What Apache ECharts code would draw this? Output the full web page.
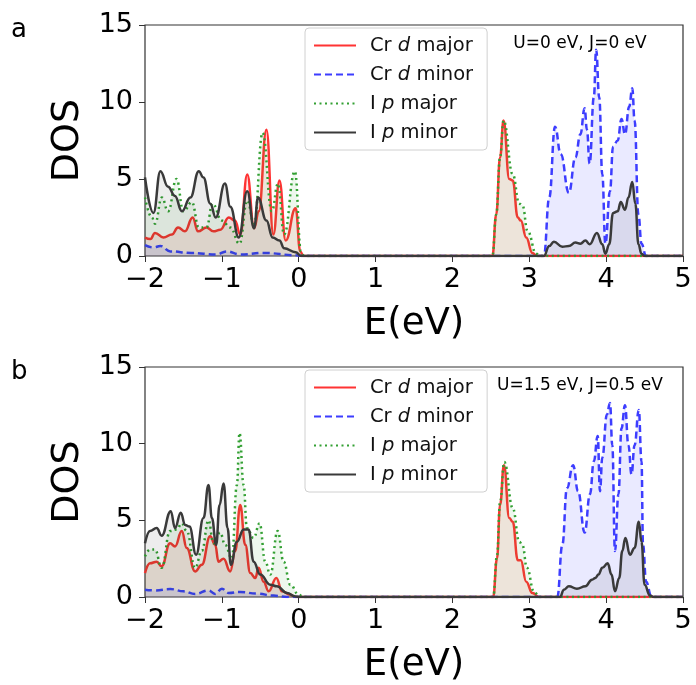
<!DOCTYPE html>
<html>
<head>
<meta charset="utf-8">
<script src="https://cdn.jsdelivr.net/npm/echarts@6/dist/echarts.min.js"></script>
<style>html,body{margin:0;padding:0;background:#fff}#c{width:696px;height:685px}</style>
</head>
<body>
<div id="c"></div>
<script>
// ---------- data ----------
var seriesNames = ['Cr d major', 'Cr d minor', 'I p major', 'I p minor'];
var xTicks = [-2, -1, 0, 1, 2, 3, 4, 5];
var yTicks = [0, 5, 10, 15];
var panelLabels = ['a', 'b'];
var panelNotes = ['U=0 eV, J=0 eV', 'U=1.5 eV, J=0.5 eV'];

// Panel a: [E (eV), DOS]
var aCrdMajor = [[-2,1.2],[-1.93,1.1],[-1.87,1.5],[-1.76,1.2],[-1.65,1.4],[-1.57,1.85],[-1.48,1.6],[-1.38,2.5],[-1.31,1.6],[-1.2,1.85],[-1.11,1.6],[-1.02,1.7],[-0.91,2.5],[-0.83,2.3],[-0.76,1.4],[-0.67,5.3],[-0.58,1.8],[-0.52,2.9],[-0.42,8.2],[-0.33,1.4],[-0.25,4.9],[-0.17,1.0],[-0.04,3.1],[0.02,0.3],[0.06,0],[2.52,0],[2.57,2.7],[2.62,6.4],[2.665,8.8],[2.74,5.0],[2.785,4.9],[2.85,2.5],[2.89,2.3],[2.96,1.2],[3.04,0.2],[3.1,0],[5,0]];
var aCrdMinor = [[-2,0.7],[-1.89,0.55],[-1.8,0.65],[-1.67,0.3],[-1.4,0.2],[-1.07,0.1],[-0.94,0.3],[-0.76,0.1],[-0.46,0.2],[-0.03,0.05],[0.05,0],[3.19,0],[3.26,3.8],[3.335,8.4],[3.41,6.6],[3.515,4.1],[3.6,6.4],[3.665,7.9],[3.72,9.6],[3.75,8.2],[3.785,6.0],[3.84,10.3],[3.87,13.4],[3.91,10.3],[3.95,5.3],[3.99,0.8],[4.05,4.2],[4.09,7.1],[4.15,7.5],[4.2,8.9],[4.245,7.9],[4.3,9.7],[4.34,10.9],[4.37,8.8],[4.42,2.7],[4.46,0.8],[4.52,0],[5,0]];
var aIpMajor = [[-2,3.8],[-1.91,2.5],[-1.87,2.1],[-1.78,3.8],[-1.7,2.9],[-1.59,5.0],[-1.5,2.9],[-1.39,3.5],[-1.3,1.85],[-1.2,1.85],[-1.12,3.4],[-1.0,2.3],[-0.89,1.85],[-0.77,0.8],[-0.67,3.6],[-0.58,2.1],[-0.47,8.0],[-0.35,2.9],[-0.27,4.7],[-0.19,1.4],[-0.05,5.5],[0.03,0.3],[0.07,0],[2.52,0],[2.57,2.7],[2.62,6.4],[2.665,8.8],[2.785,5.3],[2.87,3.4],[2.91,3.3],[2.98,1.6],[3.09,0.15],[3.15,0],[5,0]];
var aIpMinor = [[-2,5.1],[-1.89,2.8],[-1.8,5.5],[-1.7,4.5],[-1.61,3.9],[-1.52,2.9],[-1.41,3.8],[-1.3,5.5],[-1.24,5.1],[-1.15,3.4],[-1.08,2.5],[-0.96,4.7],[-0.89,3.2],[-0.78,1.2],[-0.67,4.2],[-0.58,1.8],[-0.53,3.8],[-0.42,2.3],[-0.34,1.2],[-0.25,1.0],[-0.19,0.5],[-0.04,0.25],[0.03,0],[3.19,0],[3.26,0.65],[3.32,0.93],[3.43,0.6],[3.515,0.65],[3.6,0.87],[3.665,0.8],[3.73,1.0],[3.785,0.76],[3.88,1.5],[3.95,0.76],[3.99,0.15],[4.04,0.76],[4.09,2.8],[4.15,2.9],[4.19,3.5],[4.245,3.0],[4.29,3.8],[4.34,4.8],[4.38,3.4],[4.42,0.76],[4.46,0.15],[4.5,0],[5,0]];

// Panel b
var bCrdMajor = [[-2,1.56],[-1.935,2.2],[-1.848,2.3],[-1.783,2.0],[-1.674,3.5],[-1.609,3.3],[-1.522,4.3],[-1.457,3.2],[-1.348,1.67],[-1.261,2.1],[-1.152,3.96],[-1.087,3.4],[-1.043,2.3],[-0.978,2.5],[-0.891,1.67],[-0.826,3.0],[-0.761,6.0],[-0.696,3.4],[-0.63,1.56],[-0.565,1.24],[-0.522,1.9],[-0.457,1.0],[-0.391,0.37],[-0.291,1.24],[-0.217,0.37],[-0.109,0.15],[-0.043,0],[2.53,0],[2.58,2.5],[2.62,6.0],[2.67,8.6],[2.74,5.15],[2.785,4.9],[2.85,2.4],[2.89,2.4],[2.96,1.0],[3.04,0.26],[3.13,0],[5,0]];
var bCrdMinor = [[-2,0.48],[-1.87,0.43],[-1.67,0.52],[-1.5,0.37],[-1.348,0.2],[-1.174,0.43],[-1.087,0.2],[-0.999,0.54],[-0.913,0.26],[-0.761,0.33],[-0.543,0.22],[-0.326,0.09],[-0.152,0],[3.365,0],[3.43,3.4],[3.49,7.1],[3.57,8.6],[3.635,6.9],[3.72,4.2],[3.79,6.7],[3.84,8.85],[3.89,10.5],[3.92,6.9],[3.95,9.1],[4.01,11.9],[4.05,12.65],[4.08,9.9],[4.115,3.0],[4.16,6.7],[4.2,11.0],[4.245,12.5],[4.29,9.9],[4.33,8.0],[4.37,9.9],[4.425,12.2],[4.46,8.85],[4.48,3.4],[4.52,1.0],[4.59,0],[5,0]];
var bIpMajor = [[-2,2.65],[-1.935,3.1],[-1.87,3.1],[-1.783,1.9],[-1.674,4.3],[-1.587,4.4],[-1.522,4.8],[-1.457,4.3],[-1.348,1.9],[-1.261,3.0],[-1.174,5.0],[-1.109,3.5],[-1.022,4.2],[-0.957,3.4],[-0.87,2.5],[-0.804,7.3],[-0.77,10.7],[-0.717,7.3],[-0.674,4.5],[-0.587,3.85],[-0.509,4.8],[-0.435,2.3],[-0.37,1.46],[-0.274,4.3],[-0.196,2.3],[-0.109,0.8],[0,0.15],[0.065,0],[2.53,0],[2.58,2.7],[2.62,6.2],[2.675,8.8],[2.785,5.8],[2.87,3.6],[2.91,3.4],[2.97,1.9],[3.06,0.37],[3.13,0],[5,0]];
var bIpMinor = [[-2,3.5],[-1.935,4.3],[-1.848,4.5],[-1.783,4.0],[-1.665,5.6],[-1.609,4.5],[-1.535,5.5],[-1.478,4.7],[-1.422,4.6],[-1.335,2.76],[-1.239,5.15],[-1.174,7.3],[-1.13,5.15],[-1.074,3.4],[-1.03,6.0],[-0.978,7.4],[-0.926,4.5],[-0.883,2.1],[-0.804,3.6],[-0.717,4.4],[-0.652,4.4],[-0.587,2.3],[-0.5,1.46],[-0.37,0.8],[-0.283,0.7],[-0.152,0.26],[-0.043,0.04],[0.02,0],[3.4,0],[3.45,0.48],[3.515,0.7],[3.62,0.54],[3.73,0.7],[3.815,1.13],[3.86,1.24],[3.9,1.46],[3.95,1.9],[4.02,2.2],[4.07,1.46],[4.115,0.37],[4.17,1.24],[4.21,3.0],[4.25,3.85],[4.31,2.76],[4.37,3.2],[4.425,4.9],[4.46,3.6],[4.5,0.8],[4.57,0.1],[4.62,0],[5,0]];

// ---------- chart ----------
var FONT = 'DejaVu Sans';
var panels = [[aCrdMajor, aCrdMinor, aIpMajor, aIpMinor], [bCrdMajor, bCrdMinor, bIpMajor, bIpMinor]];
var styles = [
  {color: '#ff3333', type: 'solid', fill: 'rgba(255,51,51,0.14)'},
  {color: '#3d3dff', type: [7, 4], fill: 'rgba(61,61,255,0.15)'},
  {color: '#33a033', type: [2, 3.5], fill: 'rgba(51,160,51,0.12)'},
  {color: '#3a3a3a', type: 'solid', fill: 'rgba(0,0,0,0.10)'}
];
var gridTops = [25, 367];
var gridH = 231;
var fmtTick = function (v) { return String(v).replace('-', '\u2212'); };

var grids = [], xAxes = [], yAxes = [], series = [], legends = [], graphics = [];
for (var p = 0; p < 2; p++) {
  grids.push({left: 145, top: gridTops[p], width: 538, height: gridH, show: true, borderColor: '#333', borderWidth: 1.2, backgroundColor: 'transparent'});
  xAxes.push({type: 'value', gridIndex: p, min: xTicks[0], max: xTicks[xTicks.length - 1], interval: 1,
    name: 'E(eV)', nameLocation: 'middle', nameGap: 50,
    nameTextStyle: {fontFamily: FONT, fontSize: 37, color: '#000'},
    axisLine: {show: false, onZero: false}, splitLine: {show: false},
    axisTick: {show: true, length: 6, lineStyle: {color: '#333'}},
    axisLabel: {fontFamily: FONT, fontSize: 27, color: '#000', margin: 10, formatter: fmtTick}});
  yAxes.push({type: 'value', gridIndex: p, min: yTicks[0], max: yTicks[yTicks.length - 1], interval: 5,
    name: 'DOS', nameLocation: 'middle', nameGap: 58, nameRotate: 90,
    nameTextStyle: {fontFamily: FONT, fontSize: 38, color: '#000'},
    axisLine: {show: false, onZero: false}, splitLine: {show: false},
    axisTick: {show: true, length: 6, lineStyle: {color: '#333'}},
    axisLabel: {fontFamily: FONT, fontSize: 27, color: '#000', margin: 12, formatter: fmtTick}});
  for (var s = 0; s < 4; s++) {
    series.push({type: 'line', name: seriesNames[s], xAxisIndex: p, yAxisIndex: p,
      data: panels[p][s], symbol: 'none', smooth: 0.45, smoothMonotone: 'x',
      lineStyle: {color: styles[s].color, width: 2.5, type: styles[s].type},
      itemStyle: {color: styles[s].color},
      areaStyle: {color: styles[s].fill, origin: 'start'},
      z: 2 + s});
  }
  legends.push({orient: 'vertical', left: 305, top: gridTops[p] + 3, data: seriesNames,
    backgroundColor: '#fff', borderColor: '#d0d0d0', borderWidth: 1, borderRadius: 4,
    padding: [7, 14, 7, 8], itemWidth: 42, itemHeight: 14, itemGap: 8, selectedMode: false,
    itemStyle: {opacity: 0, borderWidth: 0},
    lineStyle: {width: 2},
    formatter: function (n) {
      var parts = n.split(' ');
      return '{s|}{n|' + parts[0] + ' }{i|' + parts[1] + '}{n| ' + parts[2] + '}';
    },
    textStyle: {fontFamily: FONT, fontSize: 19.5, color: '#111', lineHeight: 21,
      rich: {s: {width: 9}, n: {fontFamily: FONT, fontSize: 19.5, color: '#111'}, i: {fontFamily: FONT, fontSize: 19.5, fontStyle: 'italic', color: '#111'}}}});
  graphics.push({type: 'text', left: 11, top: gridTops[p] - 8, style: {text: panelLabels[p], font: '26px "DejaVu Sans"', fill: '#000'}});
  graphics.push({type: 'text', x: 580, y: gridTops[p] + 19, style: {text: panelNotes[p], font: '17px "DejaVu Sans"', fill: '#000', align: 'center', verticalAlign: 'middle'}});
}

var chart = echarts.init(document.getElementById('c'), null, {renderer: 'canvas'});
chart.setOption({
  animation: false,
  backgroundColor: '#fff',
  grid: grids, xAxis: xAxes, yAxis: yAxes, series: series, legend: legends, graphic: graphics
});
</script>
</body>
</html>
